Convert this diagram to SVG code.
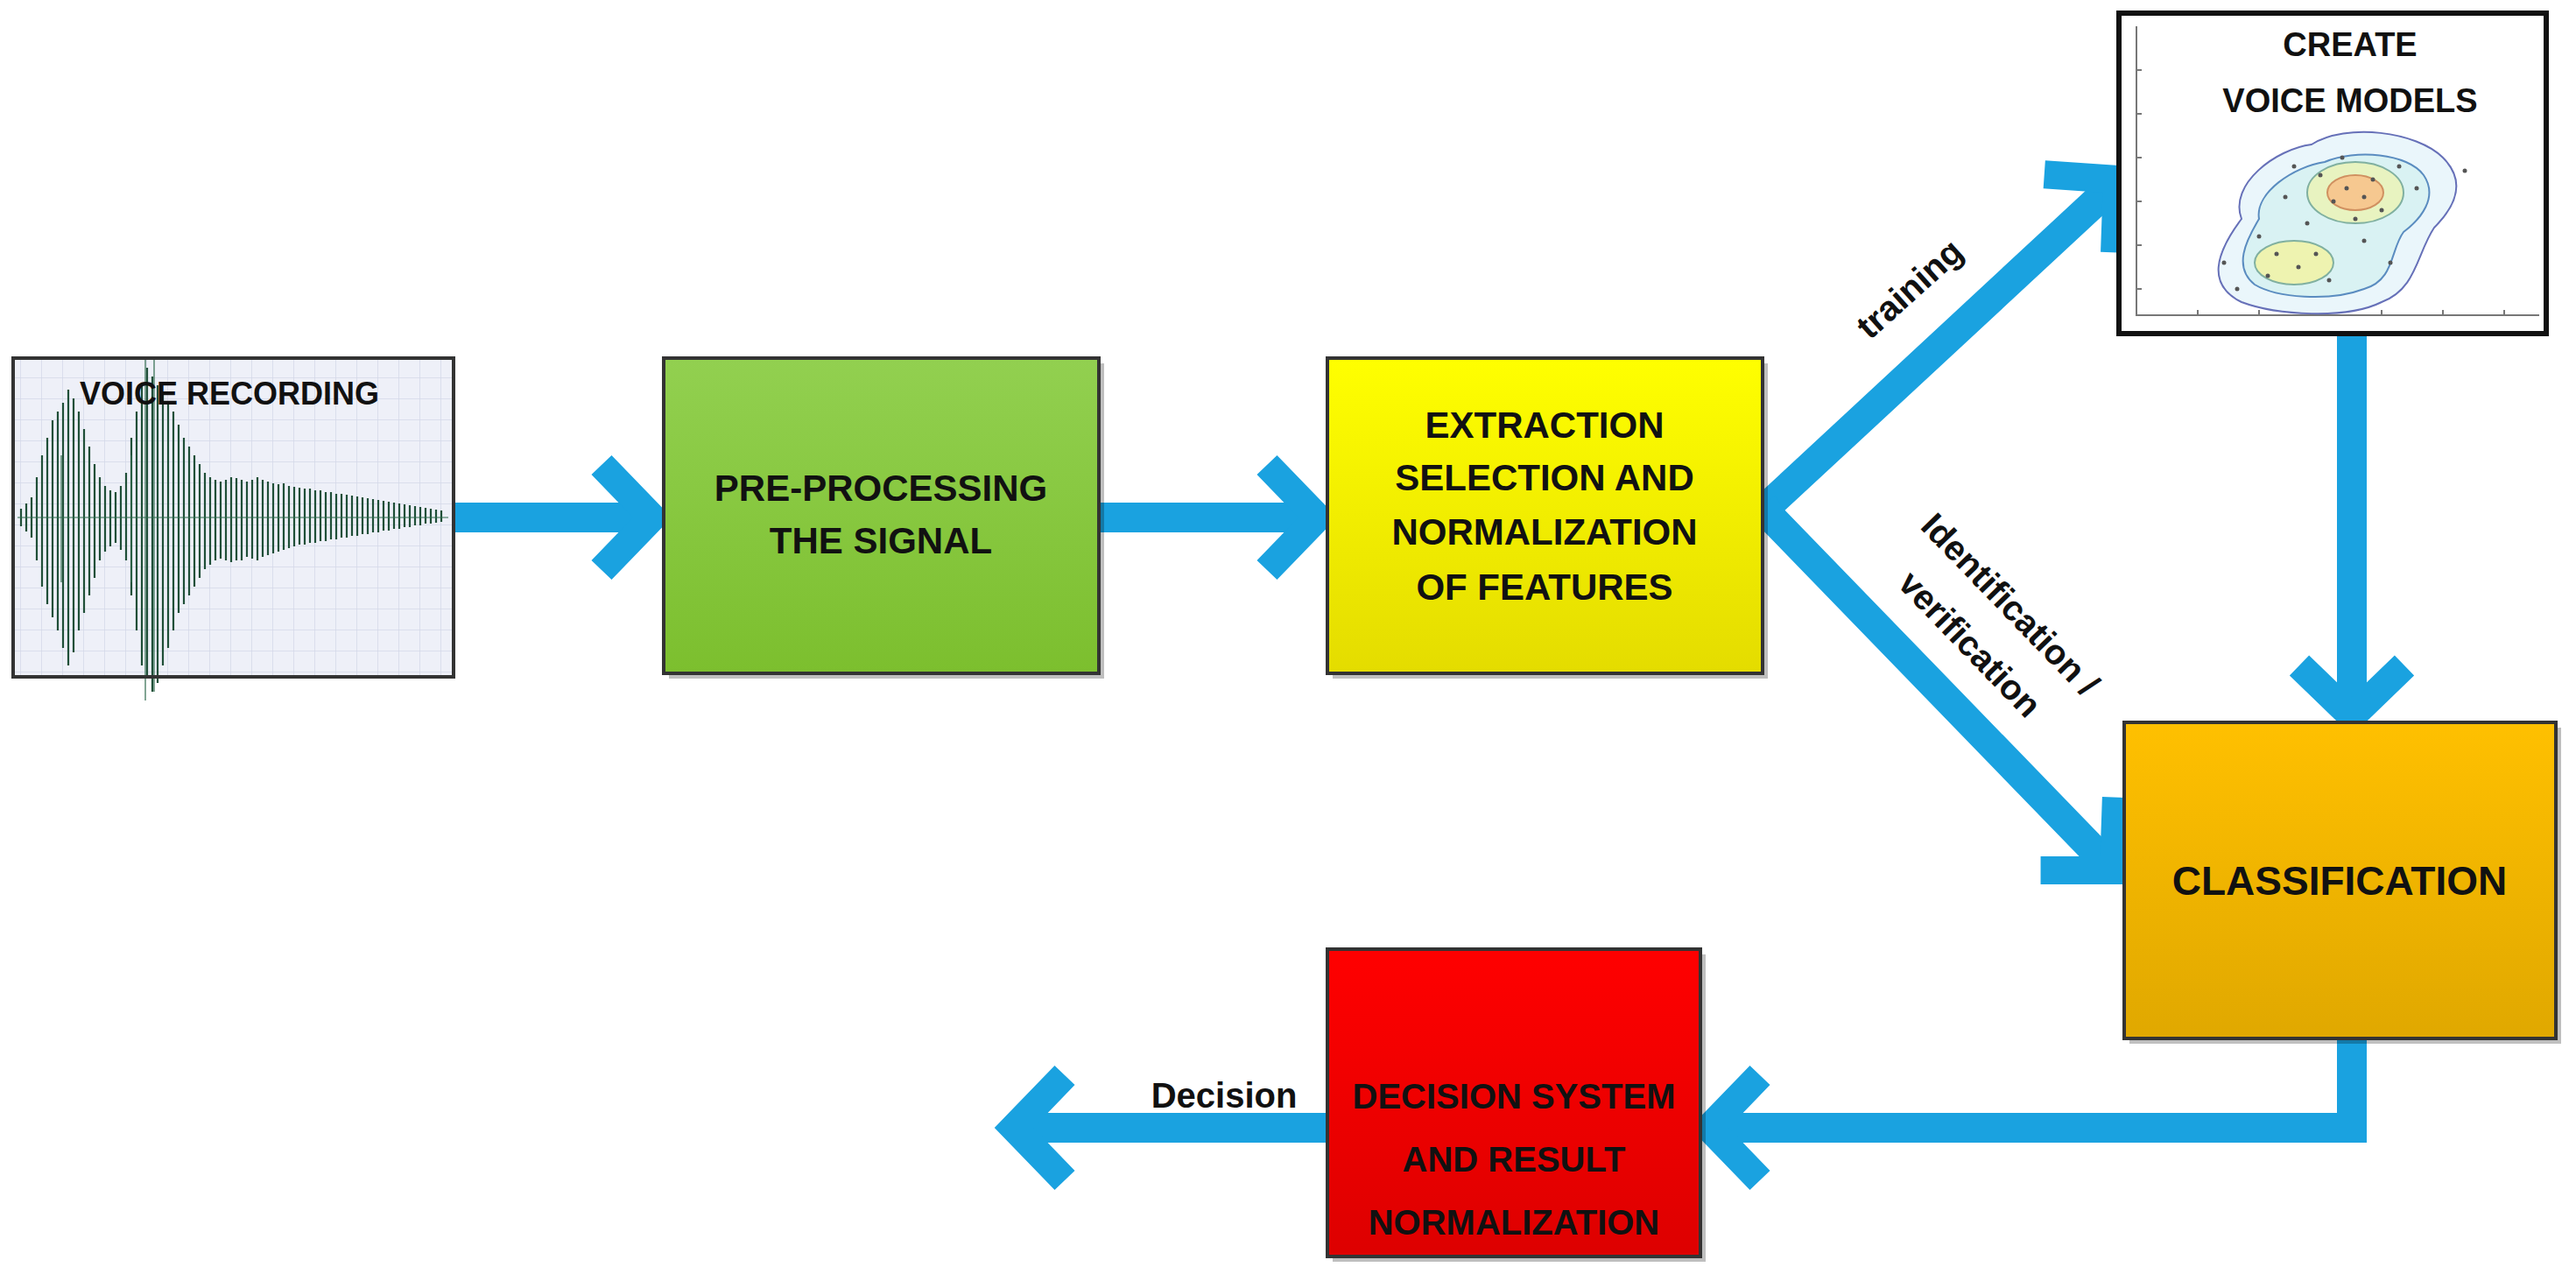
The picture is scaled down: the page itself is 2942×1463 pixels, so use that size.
<svg xmlns="http://www.w3.org/2000/svg" width="2942" height="1463" viewBox="0 0 2942 1463">
<style>
.t{font-family:"Liberation Sans",Arial,sans-serif;font-weight:bold;fill:#111;text-anchor:middle}
.box{stroke:#333;stroke-width:4}
.conn{stroke:#1aa2e0;stroke-width:34;fill:none}
.head{stroke:#1aa2e0;stroke-width:32;fill:none;stroke-linejoin:miter;stroke-miterlimit:10}
.shadow{fill:#000;opacity:0.25}
</style>
<defs>
<linearGradient id="gG" x1="0" y1="0" x2="0" y2="1"><stop offset="0" stop-color="#92d050"/><stop offset="1" stop-color="#7cbf2e"/></linearGradient>
<linearGradient id="gY" x1="0" y1="0" x2="0" y2="1"><stop offset="0" stop-color="#ffff00"/><stop offset="1" stop-color="#e4dc00"/></linearGradient>
<linearGradient id="gO" x1="0" y1="0" x2="0" y2="1"><stop offset="0" stop-color="#ffc000"/><stop offset="1" stop-color="#e0a800"/></linearGradient>
<linearGradient id="gR" x1="0" y1="0" x2="0" y2="1"><stop offset="0" stop-color="#ff0000"/><stop offset="1" stop-color="#dd0000"/></linearGradient>
<pattern id="grid" width="24" height="24" patternUnits="userSpaceOnUse"><rect width="24" height="24" fill="#eef0f8"/><path d="M24 0V24M0 24H24" stroke="#d4d8e8" stroke-width="1.5"/></pattern>
<polyline id="ah" class="head" points="-58,-60 0,0 -58,60"/>
</defs>

<g id="connectors">
<line class="conn" x1="518" y1="591" x2="735" y2="591"/>
<use href="#ah" transform="translate(745,591)"/>
<line class="conn" x1="1255" y1="591" x2="1495" y2="591"/>
<use href="#ah" transform="translate(1505,591)"/>
<polyline class="conn" points="2013,580 2022,575 2410,215"/>
<use href="#ah" transform="translate(2418,205) rotate(-42)"/>
<polyline class="conn" points="2013,575 2022,590 2405,985"/>
<use href="#ah" transform="translate(2414,994) rotate(46)"/>
<line class="conn" x1="2686" y1="381" x2="2686" y2="805"/>
<use href="#ah" transform="translate(2686,818) rotate(90)"/>
<polyline class="conn" points="2686,1186 2686,1288 1965,1288"/>
<use href="#ah" transform="translate(1952,1288) rotate(180)"/>
<line class="conn" x1="1516" y1="1288" x2="1170" y2="1288"/>
<use href="#ah" transform="translate(1158,1288) rotate(180)"/>
<text class="t" font-size="40" transform="translate(2190,340) rotate(-42)">training</text>
<text class="t" font-size="40" transform="translate(2286,700) rotate(46)">Identification /</text>
<text class="t" font-size="40" transform="translate(2240,745) rotate(46)">verification</text>
<text class="t" font-size="40" x="1398" y="1265">Decision</text>
</g>

<g id="voice-recording">
<rect x="15" y="409" width="503" height="364" fill="url(#grid)"/>
<path stroke="#1f4f38" stroke-width="2.2" fill="none" d="M24 581V601M30 575V607M36 568V614M42 545V640M48 520V670M54 500V690M60 480V705M66 470V720M72 460V740M78 445V760M84 455V745M90 470V720M96 490V700M102 510V680M108 530V660M114 545V640M120 555V630M126 560V624M132 562V620M138 555V628M144 540V640M150 500V680M156 470V720M162 440V760M168 420V775M174 430V790M180 440V780M186 450V760M192 460V740M198 470V720M204 485V700M210 500V690M216 510V680M222 520V670M228 530V660M234 540V650M240 545V645M246 548V640M252 550V638M258 548V640M264 545V642M270 546V640M276 548V640M282 550V636M288 548V638M294 545V640M300 548V636M306 550V634M312 552V632M318 553V630M324 552V628M330 555V626M336 556V624M342 557V622M348 558V622M354 558V620M360 560V620M366 560V618M372 562V618M378 562V616M384 564V616M390 564V614M396 565V614M402 566V612M408 567V612M414 568V610M420 569V610M426 570V608M432 571V608M438 572V606M444 573V606M450 574V604M456 575V604M462 576V602M468 577V602M474 578V600M480 579V600M486 580V598M492 581V598M498 582V597M504 583V596"/>
<path stroke="#2f6a4c" stroke-width="1.2" fill="none" d="M20 591H512M70 520V665M150 520V665M166 410V800M176 410V790"/>
<rect class="box" x="15" y="409" width="503" height="364" fill="none" stroke="#111" stroke-width="6"/>
<text class="t" font-size="36" x="262" y="462">VOICE RECORDING</text>
</g>

<g id="pre-processing">
<rect class="shadow" x="764" y="415" width="497" height="360"/>
<rect class="box" x="758" y="409" width="497" height="360" fill="url(#gG)"/>
<text class="t" font-size="42" x="1006" y="572">PRE-PROCESSING</text>
<text class="t" font-size="42" x="1006" y="632">THE SIGNAL</text>
</g>

<g id="extraction">
<rect class="shadow" x="1522" y="415" width="497" height="360"/>
<rect class="box" x="1516" y="409" width="497" height="360" fill="url(#gY)"/>
<text class="t" font-size="42" x="1764" y="500">EXTRACTION</text>
<text class="t" font-size="42" x="1764" y="560">SELECTION AND</text>
<text class="t" font-size="42" x="1764" y="622">NORMALIZATION</text>
<text class="t" font-size="42" x="1764" y="685">OF FEATURES</text>
</g>

<g id="create-voice-models">
<rect x="2420" y="15" width="488" height="366" fill="#fff"/>
<path d="M2440 30V360H2900M2440 80h6M2440 130h6M2440 180h6M2440 230h6M2440 280h6M2440 330h6M2510 360v-6M2580 360v-6M2650 360v-6M2720 360v-6M2790 360v-6M2860 360v-6" stroke="#777" stroke-width="2" fill="none"/>
<path d="M2560 250C2545 210 2600 170 2640 165C2680 140 2760 150 2790 180C2820 210 2800 240 2780 260C2760 290 2760 330 2720 345C2680 365 2600 360 2560 345C2520 325 2530 290 2560 250Z" fill="#eaf6fb" stroke="#6670b8" stroke-width="2"/>
<path d="M2580 250C2575 220 2620 190 2655 185C2690 170 2750 175 2768 200C2785 225 2765 250 2745 265C2730 285 2735 320 2700 330C2660 345 2600 340 2575 325C2550 305 2565 275 2580 250Z" fill="#d9f2f3" stroke="#5a8cc0" stroke-width="2"/>
<ellipse cx="2690" cy="220" rx="55" ry="35" fill="#e8f3c0" stroke="#80b0a0" stroke-width="2"/>
<ellipse cx="2690" cy="220" rx="32" ry="20" fill="#f6c890" stroke="#d09060" stroke-width="2"/>
<ellipse cx="2620" cy="300" rx="45" ry="25" fill="#eef3b0" stroke="#80b0a0" stroke-width="2"/>
<g fill="#555">
<circle cx="2680" cy="215" r="2.5"/><circle cx="2700" cy="225" r="2.5"/><circle cx="2665" cy="230" r="2.5"/><circle cx="2710" cy="205" r="2.5"/><circle cx="2650" cy="200" r="2.5"/><circle cx="2720" cy="240" r="2.5"/><circle cx="2635" cy="255" r="2.5"/><circle cx="2600" cy="290" r="2.5"/><circle cx="2625" cy="305" r="2.5"/><circle cx="2645" cy="290" r="2.5"/><circle cx="2590" cy="315" r="2.5"/><circle cx="2660" cy="320" r="2.5"/><circle cx="2740" cy="190" r="2.5"/><circle cx="2760" cy="215" r="2.5"/><circle cx="2620" cy="190" r="2.5"/><circle cx="2580" cy="270" r="2.5"/><circle cx="2700" cy="275" r="2.5"/><circle cx="2730" cy="300" r="2.5"/><circle cx="2555" cy="330" r="2.5"/><circle cx="2815" cy="195" r="2.5"/><circle cx="2540" cy="300" r="2.5"/><circle cx="2690" cy="250" r="2.5"/><circle cx="2675" cy="180" r="2.5"/><circle cx="2610" cy="225" r="2.5"/>
</g>
<rect x="2420" y="15" width="488" height="366" fill="none" stroke="#111" stroke-width="6"/>
<text class="t" font-size="38" x="2684" y="64">CREATE</text>
<text class="t" font-size="38" x="2684" y="128">VOICE MODELS</text>
</g>

<g id="classification">
<rect class="shadow" x="2432" y="831" width="493" height="361"/>
<rect class="box" x="2426" y="825" width="493" height="361" fill="url(#gO)"/>
<text class="t" font-size="46" x="2672" y="1022">CLASSIFICATION</text>
</g>

<g id="decision-system">
<rect class="shadow" x="1522" y="1090" width="426" height="351"/>
<rect class="box" x="1516" y="1084" width="426" height="351" fill="url(#gR)"/>
<text class="t" font-size="40" x="1729" y="1266">DECISION SYSTEM</text>
<text class="t" font-size="40" x="1729" y="1338">AND RESULT</text>
<text class="t" font-size="40" x="1729" y="1410">NORMALIZATION</text>
</g>
</svg>
